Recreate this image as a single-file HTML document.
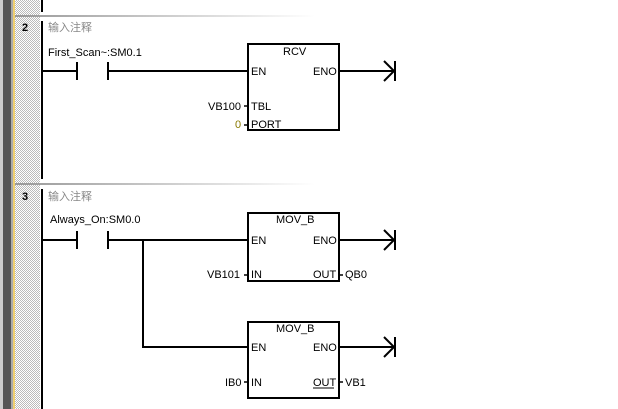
<!DOCTYPE html>
<html><head><meta charset="utf-8"><style>
body{margin:0;width:618px;height:409px;background:#fff;overflow:hidden;position:relative;font-family:"Liberation Sans","Noto Sans CJK SC",sans-serif}
.t{position:absolute;font-size:11px;color:#000;white-space:nowrap;line-height:12px}
.g{color:#888}
</style></head><body>
<svg width="618" height="409" style="position:absolute;left:0;top:0">
<defs>
<pattern id="h" width="2" height="2" patternUnits="userSpaceOnUse"><rect width="2" height="2" fill="#fff"/><rect width="1" height="1" fill="#bbb"/><rect x="1" y="1" width="1" height="1" fill="#bbb"/></pattern>
<linearGradient id="sg" x1="0" x2="1"><stop offset="0" stop-color="#999"/><stop offset="1" stop-color="#fff"/></linearGradient>
</defs>
<rect x="0" y="0" width="3" height="409" fill="#ccc"/>
<rect x="3" y="0" width="8" height="409" fill="#555"/>
<rect x="11" y="0" width="2" height="409" fill="#aaa"/>
<rect x="13" y="0" width="2" height="409" fill="#f0d070"/>
<rect x="15" y="0" width="25" height="409" fill="url(#h)"/>
<rect x="15" y="15" width="300" height="2" fill="url(#sg)"/>
<rect x="15" y="183" width="300" height="2" fill="url(#sg)"/>
<rect x="41" y="0" width="2" height="12" fill="#000"/>
<rect x="41" y="21" width="2" height="158" fill="#000"/>
<rect x="41" y="189" width="2" height="220" fill="#000"/>
<g stroke="#000" stroke-width="2" fill="none">
<path d="M42 71H77M77 62V80M108 62V80M108 71H248"/>
<rect x="248" y="44" width="91" height="86"/>
<path d="M339 71H395M384 61L394 71L384 81M395 61V81"/>
<path d="M42 240H77M77 231V249M108 231V249M108 240H248M143 240V347H248"/>
<rect x="248" y="213" width="91" height="68"/>
<path d="M339 240H395M384 230L394 240L384 250M395 230V250"/>
<rect x="248" y="322" width="91" height="76"/>
<path d="M339 347H395M384 337L394 347L384 357M395 337V357"/>
</g>
<g stroke="#000" stroke-width="1.5">
<path d="M244 106H248M244 125H248M244 275H248M339 275H343M244 382H248M339 382H343"/>
</g>
<g stroke="#000" stroke-width="1"><path d="M313 281H334M313 388H334"/></g>
</svg>
<div class="t" style="left:22px;top:22px;font-weight:bold">2</div>
<div class="t g" style="left:48px;top:22px">输入注释</div>
<div class="t" style="left:48px;top:47px">First_Scan~:SM0.1</div>
<div class="t" style="left:283px;top:46px">RCV</div>
<div class="t" style="left:251px;top:66px">EN</div>
<div class="t" style="left:313px;top:66px">ENO</div>
<div class="t" style="left:208px;top:101px">VB100</div>
<div class="t" style="left:251px;top:101px">TBL</div>
<div class="t" style="left:235px;top:119px;color:#8a7a00">0</div>
<div class="t" style="left:251px;top:119px">PORT</div>
<div class="t" style="left:22px;top:191px;font-weight:bold">3</div>
<div class="t g" style="left:48px;top:191px">输入注释</div>
<div class="t" style="left:50px;top:214px">Always_On:SM0.0</div>
<div class="t" style="left:276px;top:214px">MOV_B</div>
<div class="t" style="left:251px;top:235px">EN</div>
<div class="t" style="left:313px;top:235px">ENO</div>
<div class="t" style="left:207px;top:269px">VB101</div>
<div class="t" style="left:251px;top:269px">IN</div>
<div class="t" style="left:313px;top:269px">OUT</div>
<div class="t" style="left:345px;top:269px">QB0</div>
<div class="t" style="left:276px;top:323px">MOV_B</div>
<div class="t" style="left:251px;top:342px">EN</div>
<div class="t" style="left:313px;top:342px">ENO</div>
<div class="t" style="left:225px;top:377px">IB0</div>
<div class="t" style="left:251px;top:377px">IN</div>
<div class="t" style="left:313px;top:377px">OUT</div>
<div class="t" style="left:345px;top:377px">VB1</div>
</body></html>
